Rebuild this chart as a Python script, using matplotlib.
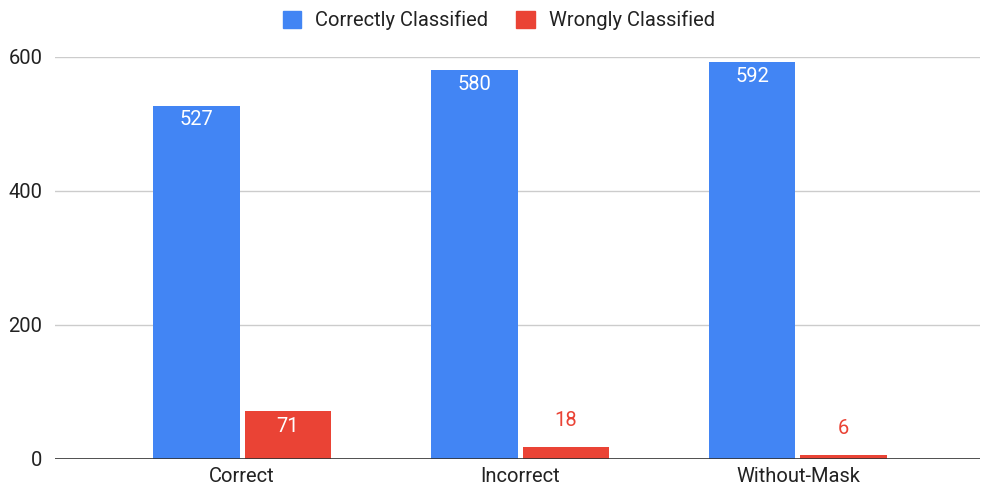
import numpy as np
import matplotlib.pyplot as plt
from matplotlib.patches import Patch

categories = ['Correct', 'Incorrect', 'Without-Mask']
correct_vals = [527, 580, 592]
wrong_vals = [71, 18, 6]
series_names = ['Correctly Classified', 'Wrongly Classified']

blue = '#4285F4'
red = '#EA4335'

plt.rcParams['font.family'] = ['Roboto', 'DejaVu Sans']
fs = 14.5

fig = plt.figure(figsize=(9.82, 4.91), dpi=100)
ax = fig.add_axes([0.056, 0.0652, 0.942, 0.8188])

x = np.arange(len(categories))
w = 0.31
b1 = ax.bar(x - 0.164, correct_vals, w, color=blue, zorder=3)
b2 = ax.bar(x + 0.164, wrong_vals, w, color=red, zorder=3)

for rect, v in zip(b1, correct_vals):
    ax.text(rect.get_x() + rect.get_width() / 2, v - 21, str(v), ha='center', va='center',
            color='white', fontsize=fs, zorder=4)
for rect, v in zip(b2, wrong_vals):
    if v > 40:
        ax.text(rect.get_x() + rect.get_width() / 2, v - 22, str(v), ha='center', va='center',
                color='white', fontsize=fs, zorder=4)
    else:
        ax.text(rect.get_x() + rect.get_width() / 2, v + 40, str(v), ha='center', va='center',
                color=red, fontsize=fs, zorder=4)

ax.set_xlim(-0.673, 2.655)
ax.set_ylim(0, 600)
ax.set_yticks([0, 200, 400, 600])
ax.set_xticks(x)
ax.set_xticklabels(categories)
ax.grid(axis='y', color='#cccccc', linewidth=1, zorder=0)
ax.axhline(0, color='#333333', linewidth=1.2, zorder=5)
for s in ax.spines.values():
    s.set_visible(False)
ax.tick_params(axis='both', length=0, labelsize=fs, colors='#222222')
ax.tick_params(axis='y', pad=9)
ax.tick_params(axis='x', pad=6)

handles = [Patch(color=blue), Patch(color=red)]
fig.legend(handles, series_names, loc='center', bbox_to_anchor=(0.508, 0.958), ncol=2,
           frameon=False, fontsize=fs, handlelength=0.9, handleheight=0.9,
           columnspacing=1.4, handletextpad=0.7, labelcolor='#222222')

fig.savefig('out.png', dpi=100)
